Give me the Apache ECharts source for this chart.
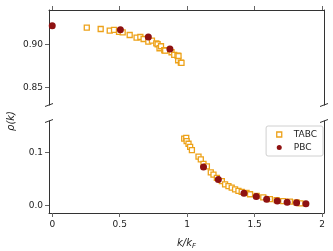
<!DOCTYPE html>
<html><head><meta charset="utf-8">
<script src="https://cdn.jsdelivr.net/npm/echarts@6/dist/echarts.min.js"></script>
<style>html,body{margin:0;padding:0;background:#fff}#c{width:333px;height:251px}</style>
</head><body><div id="c"></div>
<script>
// ---- data ----
const xTicks = [0, 0.5, 1, 1.5, 2];
const xTickLabels = ['0', '0.5', '1', '1.5', '2'];
const yTopTicks = [0.85, 0.90];
const yBotTicks = [0.0, 0.1];

const tabcTopX = [0.256, 0.359, 0.426, 0.458, 0.495, 0.522, 0.574, 0.625, 0.653, 0.677, 0.712, 0.739, 0.771, 0.781, 0.795, 0.806, 0.830, 0.837, 0.884, 0.904, 0.928, 0.933, 0.936, 0.953, 0.958];
const tabcTopY = [0.9191, 0.9176, 0.9157, 0.9165, 0.9142, 0.9138, 0.9107, 0.9076, 0.9084, 0.9061, 0.9030, 0.9041, 0.9011, 0.9000, 0.8954, 0.8977, 0.8931, 0.8926, 0.8908, 0.8877, 0.8869, 0.8816, 0.8865, 0.8788, 0.8785];
const pbcTopX = [0.0, 0.505, 0.712, 0.872];
const pbcTopY = [0.9214, 0.9168, 0.9084, 0.8946];

const tabcBotX = [0.978, 0.993, 0.996, 1.010, 1.022, 1.035, 1.084, 1.101, 1.121, 1.146, 1.175, 1.195, 1.220, 1.257, 1.281, 1.306, 1.330, 1.355, 1.380, 1.404, 1.440, 1.466, 1.515, 1.564, 1.613, 1.663, 1.712, 1.761, 1.811, 1.840];
const tabcBotY = [0.1265, 0.1280, 0.1220, 0.1170, 0.1110, 0.1050, 0.0926, 0.0876, 0.0790, 0.0740, 0.0630, 0.0585, 0.0524, 0.0463, 0.0400, 0.0370, 0.0340, 0.0307, 0.0278, 0.0260, 0.0240, 0.0215, 0.0185, 0.0154, 0.0122, 0.0104, 0.0085, 0.0074, 0.0061, 0.0043];
const pbcBotX = [1.121, 1.231, 1.421, 1.512, 1.589, 1.668, 1.741, 1.811, 1.880];
const pbcBotY = [0.0728, 0.0493, 0.0233, 0.0172, 0.0122, 0.0085, 0.0061, 0.0056, 0.0037];

const zip = (xs, ys) => xs.map((x, i) => [x, ys[i]]);

const ORANGE = '#EDA21A';
const DARKRED = '#8E1111';
const SPINE = '#333';
const TICK = '#666';
const FONT = 'DejaVu Sans';

const chart = echarts.init(document.getElementById('c'), null, {renderer: 'canvas'});

const GL = 49, GR = 9, T1 = 10, H1 = 95, T2 = 121, H2 = 95;

function xAxisDef(grid, top) {
  return {
    type: 'value', gridIndex: grid, min: -0.024, max: 2.014,
    position: top ? 'top' : 'bottom',
    axisLine: {show: true, onZero: false, lineStyle: {color: SPINE, width: 1}},
    axisTick: {show: true, inside: false, length: 4, customValues: xTicks, lineStyle: {color: TICK}},
    axisLabel: {show: !top, customValues: xTicks, color: '#222', fontFamily: FONT, fontSize: 9, margin: 7,
      formatter: v => { const i = xTicks.indexOf(v); return i >= 0 ? xTickLabels[i] : ''; }},
    splitLine: {show: false},
    name: top ? '' : '{i|k/k}{s|F}',
    nameLocation: 'middle', nameGap: 24,
    nameTextStyle: {rich: {
      i: {fontFamily: FONT, fontStyle: 'italic', fontSize: 10, color: '#222'},
      s: {fontFamily: FONT, fontStyle: 'italic', fontSize: 7, color: '#222', padding: [6, 0, 0, 0]}
    }}
  };
}
function yAxisDef(grid, min, max, ticks, dec) {
  return {
    type: 'value', gridIndex: grid, min: min, max: max, position: 'left',
    axisLine: {show: true, onZero: false, lineStyle: {color: SPINE, width: 1}},
    axisTick: {show: true, inside: false, length: 4, customValues: ticks, lineStyle: {color: TICK}},
    axisLabel: {show: true, customValues: ticks, color: '#222', fontFamily: FONT, fontSize: 9, margin: 6,
      formatter: v => v.toFixed(dec)},
    splitLine: {show: false}
  };
}
function rightSpine(grid, min, max) {
  return {
    type: 'value', gridIndex: grid, min: min, max: max, position: 'right',
    axisLine: {show: true, onZero: false, lineStyle: {color: SPINE, width: 1}},
    axisTick: {show: false}, axisLabel: {show: false}, splitLine: {show: false}
  };
}

const tabcStyle = {color: '#fff', borderColor: ORANGE, borderWidth: 1.3, opacity: 1};
const pbcStyle = {color: DARKRED, opacity: 1};

const option = {
  animation: false,
  backgroundColor: '#fff',
  grid: [
    {left: GL, right: GR, top: T1, height: H1},
    {left: GL, right: GR, top: T2, height: H2}
  ],
  xAxis: [xAxisDef(0, true), xAxisDef(1, false)],
  yAxis: [
    yAxisDef(0, 0.83, 0.9395, yTopTicks, 2),
    yAxisDef(1, -0.014, 0.16, yBotTicks, 1),
    rightSpine(0, 0.83, 0.9395),
    rightSpine(1, -0.014, 0.16)
  ],
  legend: {
    data: [
      {name: 'TABC', itemStyle: {color: '#fff', borderColor: ORANGE, borderWidth: 1.3}},
      {name: 'PBC'}
    ],
    orient: 'vertical', right: 10, top: 126,
    itemWidth: 5, itemHeight: 5, itemGap: 2,
    padding: [3, 6, 3, 10],
    borderColor: '#d0d0d0', borderWidth: 1, borderRadius: 2,
    textStyle: {fontFamily: FONT, fontSize: 9, color: '#222', padding: [0, 0, 0, 7], lineHeight: 11}
  },
  series: [
    {name: 'TABC', type: 'scatter', xAxisIndex: 0, yAxisIndex: 0, data: zip(tabcTopX, tabcTopY), symbol: 'rect', symbolSize: 5, itemStyle: tabcStyle, z: 2},
    {name: 'TABC', type: 'scatter', xAxisIndex: 1, yAxisIndex: 1, data: zip(tabcBotX, tabcBotY), symbol: 'rect', symbolSize: 5, itemStyle: tabcStyle, z: 2},
    {name: 'PBC', type: 'scatter', xAxisIndex: 0, yAxisIndex: 0, data: zip(pbcTopX, pbcTopY), symbol: 'circle', symbolSize: 7, itemStyle: pbcStyle, z: 3},
    {name: 'PBC', type: 'scatter', xAxisIndex: 1, yAxisIndex: 1, data: zip(pbcBotX, pbcBotY), symbol: 'circle', symbolSize: 7, itemStyle: pbcStyle, z: 3}
  ]
};
chart.setOption(option);

// break marks and y label (decorations)
const W = chart.getWidth();
const xl = GL, xr = W - GR, yb1 = T1 + H1, yt2 = T2;
const mk = (x, y) => ({type: 'line', shape: {x1: x - 4, y1: y + 1.5, x2: x + 4, y2: y - 1.5}, style: {stroke: SPINE, lineWidth: 1}});
chart.setOption({graphic: [
  mk(xl, yb1), mk(xr, yb1), mk(xl, yt2), mk(xr, yt2),
  {type: 'text', x: 11, y: 121, rotation: Math.PI / 2,
    style: {text: 'ρ(k)', font: 'italic 10px "DejaVu Sans"', fill: '#222', align: 'center', verticalAlign: 'middle'}}
]});
</script></body></html>
